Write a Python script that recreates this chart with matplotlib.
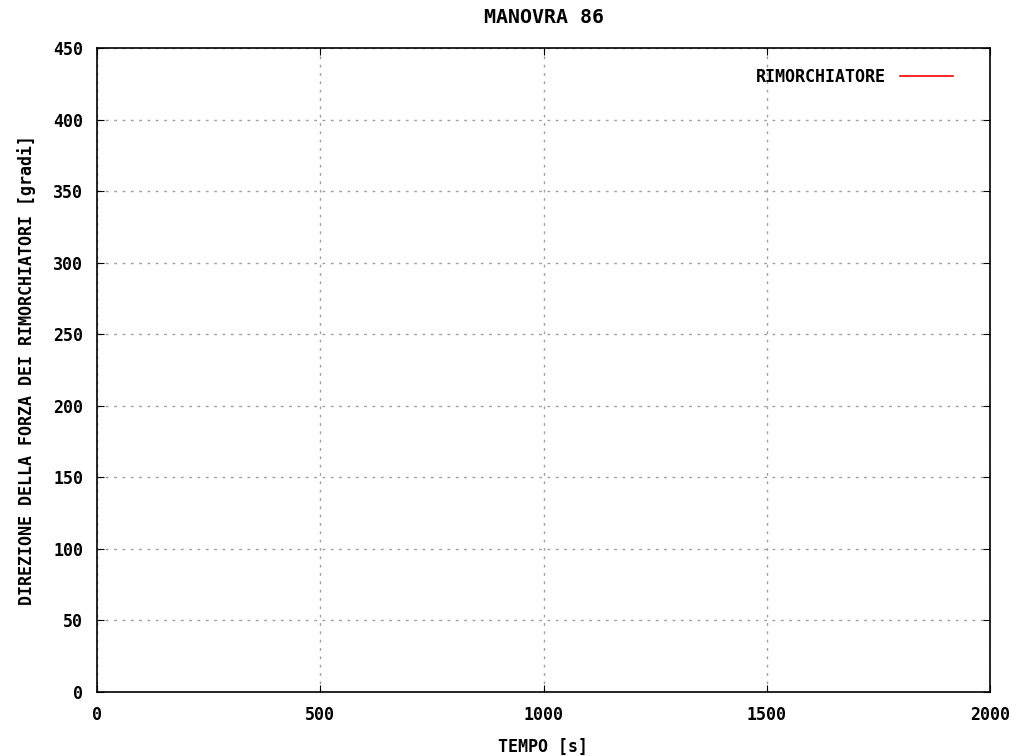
import matplotlib
matplotlib.use("Agg")
import matplotlib.pyplot as plt

# the series in the source chart holds no visible points
tempo = []
direzione = []

xticks = [0, 500, 1000, 1500, 2000]
yticks = [0, 50, 100, 150, 200, 250, 300, 350, 400, 450]

plt.rcParams['font.family'] = ['DejaVu Sans Mono']
plt.rcParams['font.weight'] = 'bold'
plt.rcParams['font.size'] = 12

fig = plt.figure(figsize=(10.23, 7.56), dpi=100)
ax = fig.add_axes([97 / 1023, 1 - 692 / 756, 893 / 1023, 644 / 756])

ax.plot(tempo, direzione, color='red', lw=1.2, label='RIMORCHIATORE')

ax.set_xlim(0, 2000)
ax.set_ylim(0, 450)
ax.set_xticks(xticks)
ax.set_yticks(yticks)
ax.tick_params(direction='in', top=True, right=True, length=5, pad=10)
ax.grid(True, color='#a0a0a0', linestyle=(0, (2, 4)), lw=1)
for s in ax.spines.values():
    s.set_linewidth(1.2)

ax.set_title('MANOVRA 86', fontweight='bold', pad=18)
ax.set_xlabel('TEMPO [s]', fontweight='bold', labelpad=10)
ax.set_ylabel('DIREZIONE DELLA FORZA DEI RIMORCHIATORI [gradi]', fontweight='bold', labelpad=12)

leg = ax.legend(loc='center right', bbox_to_anchor=(0.9586, 0.955), frameon=False,
                markerfirst=False, handlelength=3.2, handletextpad=0.84,
                borderpad=0, borderaxespad=0)

fig.savefig('out.png', dpi=100)
